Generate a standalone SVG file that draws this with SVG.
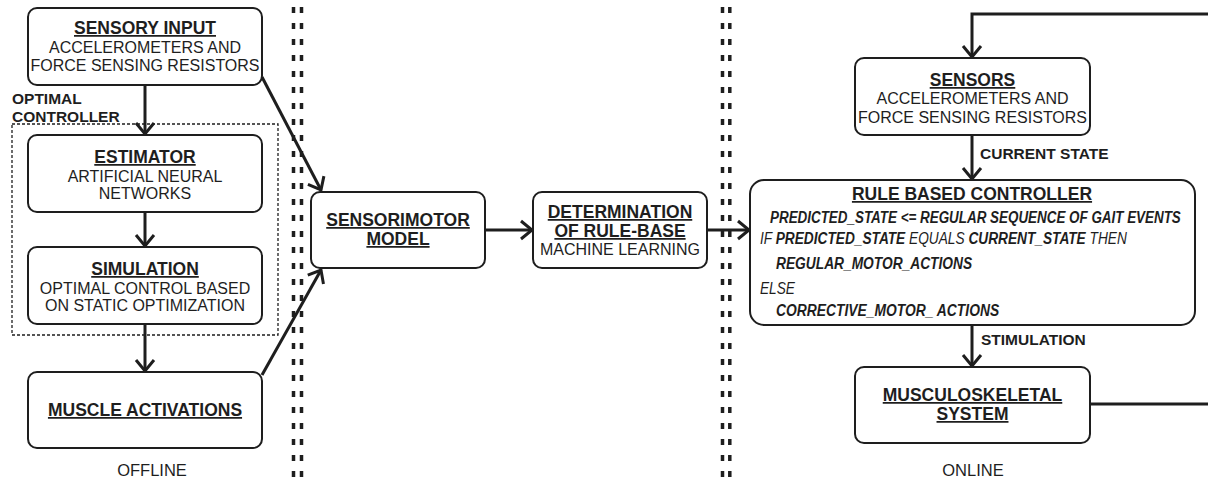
<svg xmlns="http://www.w3.org/2000/svg" width="1208" height="484" viewBox="0 0 1208 484">
<style>
.box{fill:#fff;stroke:#1e1e1e;stroke-width:2}
.t{font-family:"Liberation Sans",Arial,sans-serif;fill:#1e1e1e;text-anchor:middle}
.h{font-weight:bold;font-size:17.5px;text-decoration:underline}
.r{font-size:16px}
.lb{font-family:"Liberation Sans",Arial,sans-serif;fill:#1e1e1e;font-weight:bold;font-size:15.5px}
.it{font-family:"Liberation Sans",Arial,sans-serif;fill:#1e1e1e;font-style:italic;font-size:17px}
.b{font-weight:bold}
.conn{stroke:#1e1e1e;stroke-width:3;fill:none}
.sep{stroke:#1e1e1e;stroke-width:3.5;stroke-dasharray:6 10;fill:none}
</style>
<defs>
<marker id="ah" markerUnits="userSpaceOnUse" markerWidth="30" markerHeight="30" viewBox="-2 -2 30 30" refX="12" refY="9" orient="auto" overflow="visible">
<path d="M1,0 L12,9 L1,18" fill="none" stroke="#1e1e1e" stroke-width="3"/>
</marker>
</defs>

<g id="separators">
<line class="sep" x1="293.5" y1="7" x2="293.5" y2="484"/>
<line class="sep" x1="301.5" y1="7" x2="301.5" y2="484"/>
<line class="sep" x1="722.5" y1="7" x2="722.5" y2="484"/>
<line class="sep" x1="729.8" y1="7" x2="729.8" y2="484"/>
</g>

<g id="optimal-controller">
<rect x="12" y="124" width="266" height="211" fill="none" stroke="#1e1e1e" stroke-width="1.3" stroke-dasharray="3 2"/>
<text class="lb" x="12" y="103.5">OPTIMAL</text>
<text class="lb" x="12" y="121.5">CONTROLLER</text>
</g>

<g id="connectors">
<path class="conn" d="M145,85 L145,134" marker-end="url(#ah)"/>
<path class="conn" d="M145,212 L145,246" marker-end="url(#ah)"/>
<path class="conn" d="M145,324 L145,371" marker-end="url(#ah)"/>
<path class="conn" d="M262,77 L321,190" marker-end="url(#ah)"/>
<path class="conn" d="M262,375 L321,270" marker-end="url(#ah)"/>
<path class="conn" d="M485,230 L532,230" marker-end="url(#ah)"/>
<path class="conn" d="M707,230 L749,230" marker-end="url(#ah)"/>
<path class="conn" d="M1208,14 L972,14 L972,57" marker-end="url(#ah)"/>
<path class="conn" d="M972,135 L972,179" marker-end="url(#ah)"/>
<path class="conn" d="M972,325 L972,366" marker-end="url(#ah)"/>
<path class="conn" d="M1090,404 L1208,404"/>
<text class="lb" x="980" y="158.5">CURRENT STATE</text>
<text class="lb" x="981" y="344.5">STIMULATION</text>
</g>

<g id="sensory-input">
<rect class="box" x="28" y="8" width="234" height="77" rx="9"/>
<text class="t h" x="145" y="34">SENSORY INPUT</text>
<text class="t r" x="145" y="52.5">ACCELEROMETERS AND</text>
<text class="t r" x="145" y="70.5">FORCE SENSING RESISTORS</text>
</g>

<g id="estimator">
<rect class="box" x="28" y="135" width="234" height="77" rx="9"/>
<text class="t h" x="145" y="163">ESTIMATOR</text>
<text class="t r" x="145" y="181.5">ARTIFICIAL NEURAL</text>
<text class="t r" x="145" y="198.5">NETWORKS</text>
</g>

<g id="simulation">
<rect class="box" x="28" y="247" width="234" height="77" rx="9"/>
<text class="t h" x="145" y="275">SIMULATION</text>
<text class="t r" x="145" y="293.5">OPTIMAL CONTROL BASED</text>
<text class="t r" x="145" y="310.5">ON STATIC OPTIMIZATION</text>
</g>

<g id="muscle-activations">
<rect class="box" x="28" y="372" width="234" height="76" rx="9"/>
<text class="t h" x="145" y="416">MUSCLE ACTIVATIONS</text>
</g>

<text class="t" x="152" y="476" font-size="16.5">OFFLINE</text>

<g id="sensorimotor-model">
<rect class="box" x="311" y="192" width="174" height="76" rx="9"/>
<text class="t h" x="398" y="226">SENSORIMOTOR</text>
<text class="t h" x="398" y="245">MODEL</text>
</g>

<g id="determination">
<rect class="box" x="533" y="192" width="174" height="76" rx="9"/>
<text class="t h" x="620" y="218">DETERMINATION</text>
<text class="t h" x="620" y="237">OF RULE-BASE</text>
<text class="t r" x="620" y="254.5">MACHINE LEARNING</text>
</g>

<g id="sensors">
<rect class="box" x="855" y="58" width="235" height="77" rx="9"/>
<text class="t h" x="972.5" y="86">SENSORS</text>
<text class="t r" x="972.5" y="103.5">ACCELEROMETERS AND</text>
<text class="t r" x="972.5" y="122.5">FORCE SENSING RESISTORS</text>
</g>

<g id="rule-based-controller">
<rect class="box" x="750" y="180" width="445" height="145" rx="14"/>
<text class="t h" x="972" y="200" font-size="19">RULE BASED CONTROLLER</text>
<text class="it b" transform="translate(770,223) scale(0.79,1)">PREDICTED_STATE &lt;= REGULAR SEQUENCE OF GAIT EVENTS</text>
<text class="it" transform="translate(760,244) scale(0.806,1)">IF <tspan class="b">PREDICTED_STATE</tspan> EQUALS <tspan class="b">CURRENT_STATE</tspan> THEN</text>
<text class="it b" transform="translate(776,269) scale(0.81,1)">REGULAR_MOTOR_ACTIONS</text>
<text class="it" transform="translate(760,294) scale(0.805,1)">ELSE</text>
<text class="it b" transform="translate(776,316) scale(0.815,1)">CORRECTIVE_MOTOR_ ACTIONS</text>
</g>

<g id="musculoskeletal-system">
<rect class="box" x="855" y="367" width="235" height="76" rx="9"/>
<text class="t h" x="972.5" y="401">MUSCULOSKELETAL</text>
<text class="t h" x="972.5" y="420">SYSTEM</text>
</g>

<text class="t" x="973" y="476" font-size="16.5">ONLINE</text>
</svg>
